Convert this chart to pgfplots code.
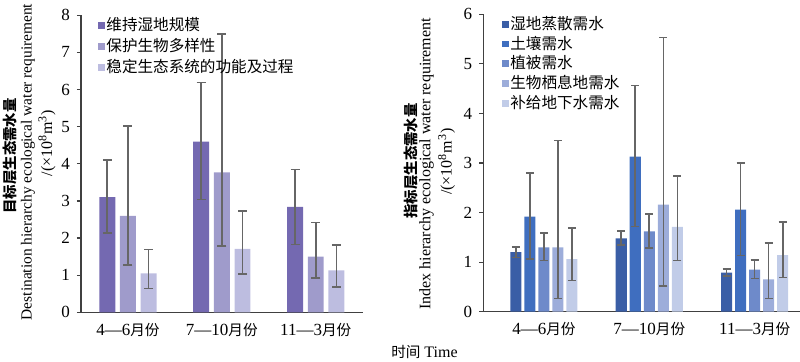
\documentclass[border=0pt]{standalone}
\usepackage{fontspec}
\setmainfont{Liberation Serif}
\newfontfamily\cjk{Noto Sans CJK SC}
\usepackage{pgfplots}
\usepackage{pgfplotstable}
\pgfplotsset{compat=1.18}
\definecolor{lA}{HTML}{7469B1}
\definecolor{lB}{HTML}{9F9BCB}
\definecolor{lC}{HTML}{BDBDE0}
\definecolor{rA}{HTML}{3A5EA6}
\definecolor{rB}{HTML}{3F6EBF}
\definecolor{rC}{HTML}{6E8ACA}
\definecolor{rD}{HTML}{9DADDA}
\definecolor{rE}{HTML}{C1CCE8}
\definecolor{axgray}{HTML}{404040}
\definecolor{errgray}{HTML}{666666}

% left: x y ep em
\pgfplotstableread{
x y ep em
0 3.10 1.00 0.96
1 4.60 1.59 1.56
2 2.84 1.01 1.01
}\LA
\pgfplotstableread{
x y ep em
0 2.60 2.42 1.32
1 3.77 3.72 1.98
2 1.50 0.92 0.57
}\LB
\pgfplotstableread{
x y ep em
0 1.05 0.64 0.41
1 1.71 1.02 0.68
2 1.13 0.68 0.45
}\LC
% right
\pgfplotstableread{
x y ep em
0 1.20 0.11 0.11
1 1.48 0.15 0.14
2 0.79 0.07 0.07
}\RA
\pgfplotstableread{
x y ep em
0 1.92 0.88 0.86
1 3.13 1.43 1.41
2 2.06 0.94 0.93
}\RB
\pgfplotstableread{
x y ep em
0 1.30 0.29 0.27
1 1.62 0.35 0.34
2 0.85 0.19 0.18
}\RC
\pgfplotstableread{
x y ep em
0 1.30 2.15 1.03
1 2.16 3.37 1.64
2 0.65 0.74 0.38
}\RD
\pgfplotstableread{
x y ep em
0 1.06 0.63 0.43
1 1.71 1.03 0.68
2 1.14 0.67 0.45
}\RE

\pgfplotsset{
  myaxis/.style={
    scale only axis,
    axis x line*=bottom, axis y line*=left,
    axis line style={axgray, line width=0.7pt},
    xtick={0,1,2},
    xticklabels={{4—6{\cjk\fontsize{7.3}{7.3}\selectfont 月份}},{7—10{\cjk\fontsize{7.3}{7.3}\selectfont 月份}},{11—3{\cjk\fontsize{7.3}{7.3}\selectfont 月份}}},
    x tick style={draw=none},
    y tick style={axgray, line width=0.6pt},
    tick align=outside, major tick length=2pt,
    /pgf/number format/assume math mode=true,
    tick label style={font=\fontsize{8.5}{8.5}\selectfont},
    ybar,
    ymin=0,
    legend cell align=left,
    legend image code/.code={\path[#1,draw=none] (0pt,-1.7pt) rectangle (3.4pt,1.7pt);},
    legend style={draw=none, fill=none, inner sep=0pt, outer sep=0pt,
      font=\cjk\fontsize{7.8}{7.8}\selectfont,
      nodes={inner sep=0.6pt}},
    clip=false,
  },
  eb/.style={error bars/.cd, y dir=both, y explicit,
    error bar style={errgray, line width=0.8pt},
    error mark options={errgray, line width=0.8pt, rotate=90, mark size=#1}},
}

\begin{document}
\begin{tikzpicture}
\useasboundingbox (0,0) rectangle (400pt,181pt);
% ---------------- left
\begin{axis}[myaxis,
  at={(40.5pt,24.85pt)}, anchor=south west,
  width=140.85pt, height=148.5pt,
  xmin=-0.5, xmax=2.5, ymax=8, ytick={0,...,8},
  bar width=0.17,
  legend style={at={(rel axis cs:0,1)}, anchor=north west, xshift=8.7pt, yshift=-0.5pt,
    row sep=1.3pt},
]
\addplot[fill=lA, draw=none, bar shift=-0.22, eb=2.25pt] table[x=x,y=y,y error plus=ep,y error minus=em]{\LA};
\addplot[fill=lB, draw=none, bar shift=0, eb=2.25pt] table[x=x,y=y,y error plus=ep,y error minus=em]{\LB};
\addplot[fill=lC, draw=none, bar shift=0.22, eb=2.25pt] table[x=x,y=y,y error plus=ep,y error minus=em]{\LC};
\legend{维持湿地规模,保护生物多样性,稳定生态系统的功能及过程}
\end{axis}
% ---------------- right
\begin{axis}[myaxis,
  at={(241.65pt,25.15pt)}, anchor=south west,
  width=158.35pt, height=148.7pt,
  xmin=-0.575, xmax=2.43, ymax=6, ytick={0,...,6},
  bar width=0.105,
  legend style={at={(rel axis cs:0,1)}, anchor=north west, xshift=9.5pt, yshift=-0.3pt, row sep=0.6pt},
]
\addplot[fill=rA, draw=none, bar shift=-0.266, eb=2pt] table[x=x,y=y,y error plus=ep,y error minus=em]{\RA};
\addplot[fill=rB, draw=none, bar shift=-0.133, eb=2pt] table[x=x,y=y,y error plus=ep,y error minus=em]{\RB};
\addplot[fill=rC, draw=none, bar shift=0, eb=2pt] table[x=x,y=y,y error plus=ep,y error minus=em]{\RC};
\addplot[fill=rD, draw=none, bar shift=0.133, eb=2pt] table[x=x,y=y,y error plus=ep,y error minus=em]{\RD};
\addplot[fill=rE, draw=none, bar shift=0.266, eb=2pt] table[x=x,y=y,y error plus=ep,y error minus=em]{\RE};
\legend{湿地蒸散需水,土壤需水,植被需水,生物栖息地需水,补给地下水需水}
\end{axis}
% ---------------- axis titles
\node[rotate=90, font=\cjk\bfseries\fontsize{7.2}{7.2}\selectfont] at (5pt,103pt) {目标层生态需水量};
\node[rotate=90, font=\fontsize{7.7}{7.7}\selectfont] at (14pt,100pt) {Destination hierarchy ecological water requirement};
\node[rotate=90, font=\fontsize{8}{8}\selectfont] at (23.5pt,109.5pt) {/(×10\textsuperscript{8}m\textsuperscript{3})};
\node[rotate=90, font=\cjk\bfseries\fontsize{7.2}{7.2}\selectfont] at (205.5pt,100.5pt) {指标层生态需水量};
\node[rotate=90, font=\fontsize{8}{8}\selectfont] at (213.3pt,99.1pt) {Index hierarchy ecological water requirement};
\node[rotate=90, font=\fontsize{8}{8}\selectfont] at (223.3pt,100.2pt) {/(×10\textsuperscript{8}m\textsuperscript{3})};
\node[font=\fontsize{8}{8}\selectfont] at (212.25pt,5pt) {{\cjk\fontsize{7.3}{7.3}\selectfont 时间} Time};
\end{tikzpicture}
\end{document}
